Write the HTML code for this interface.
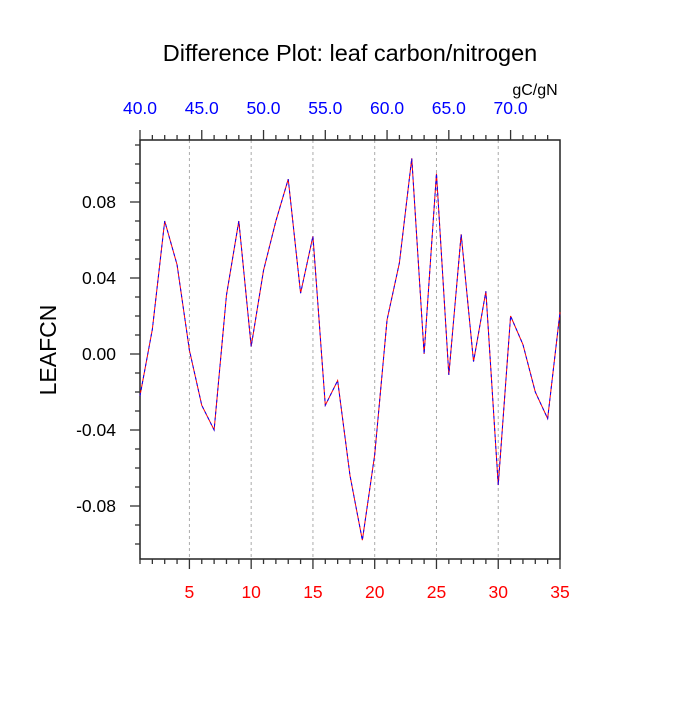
<!DOCTYPE html>
<html><head><meta charset="utf-8"><style>
body{margin:0;background:#fff}
svg text{font-family:"Liberation Sans",sans-serif}
</style></head><body>
<svg id="chart" width="700" height="700" xmlns="http://www.w3.org/2000/svg">
<text x="350" y="61" font-size="23.5" text-anchor="middle">Difference Plot: leaf carbon/nitrogen</text>
<text x="535" y="95" font-size="16" text-anchor="middle">gC/gN</text>
<text transform="translate(56,350) rotate(-90)" font-size="23" text-anchor="middle">LEAFCN</text>
<g id="grid"></g><g id="axes"></g><g id="series"></g>
</svg>
<script>
const xIndex=[1,2,3,4,5,6,7,8,9,10,11,12,13,14,15,16,17,18,19,20,21,22,23,24,25,26,27,28,29,30,31,32,33,34,35];
const leafcn=[-0.022,0.013,0.070,0.047,0.002,-0.027,-0.040,0.031,0.070,0.004,0.044,0.070,0.092,0.032,0.062,-0.027,-0.014,-0.064,-0.098,-0.053,0.018,0.048,0.103,0.000,0.095,-0.011,0.063,-0.004,0.033,-0.069,0.020,0.005,-0.020,-0.034,0.022];
const bottomTicks=[5,10,15,20,25,30,35];
const topTicks=[40,45,50,55,60,65,70];
const yTicks=[-0.08,-0.04,0.00,0.04,0.08];
const yLabels=["-0.08","-0.04","0.00","0.04","0.08"];
const L=140,R=560,T=140,B=559;
const sx=v=>L+(v-1)/34*(R-L);
const sTop=v=>sx(v-39);
const sy=v=>354-v*1900;
const NS="http://www.w3.org/2000/svg";
function mk(p,t,a){const e=document.createElementNS(NS,t);for(const k in a)e.setAttribute(k,a[k]);p.appendChild(e);return e;}
const grid=document.getElementById('grid'),axes=document.getElementById('axes'),ser=document.getElementById('series');
bottomTicks.forEach(v=>{if(v<35){const g=mk(grid,'line',{x1:sx(v),x2:sx(v),y1:T,y2:B,stroke:'#aaa','stroke-width':1,'stroke-dasharray':'3,3'});

}});
const frame=mk(axes,'rect',{x:L,y:T,width:R-L,height:B-T,fill:'none',stroke:'#222','stroke-width':1.5});


for(let v=1;v<=35;v++){const maj=v%5===0;mk(axes,'line',{x1:sx(v),x2:sx(v),y1:B,y2:B+(maj?10:5),stroke:'#333','stroke-width':1.3});}
for(let v=40;v<=73;v++){const maj=v%5===0;mk(axes,'line',{x1:sTop(v),x2:sTop(v),y1:T,y2:T-(maj?10:5),stroke:'#333','stroke-width':1.3});}
for(let k=-10;k<=11;k++){const v=k/100;const maj=k%4===0;mk(axes,'line',{x1:L,x2:L-(maj?10:5),y1:sy(v),y2:sy(v),stroke:'#333','stroke-width':1.3});}
bottomTicks.forEach(v=>{const t=mk(axes,'text',{x:sx(v),y:598,'font-size':17.5,fill:'#f00','text-anchor':'middle'});t.textContent=v;

});
topTicks.forEach(v=>{const t=mk(axes,'text',{x:sTop(v),y:114,'font-size':17.5,fill:'#00f','text-anchor':'middle'});t.textContent=v.toFixed(1);

});
yTicks.forEach((v,i)=>{const t=mk(axes,'text',{x:116,y:sy(v)+6,'font-size':17.5,'text-anchor':'end'});t.textContent=yLabels[i];

});
const pts=xIndex.map((x,i)=>sx(x)+','+sy(leafcn[i])).join(' ');
const l1=mk(ser,'polyline',{points:pts,fill:'none',stroke:'#f00','stroke-width':1});


const l2=mk(ser,'polyline',{points:pts,fill:'none',stroke:'#00f','stroke-width':1,'stroke-dasharray':'3,3'});


</script>
</body></html>
